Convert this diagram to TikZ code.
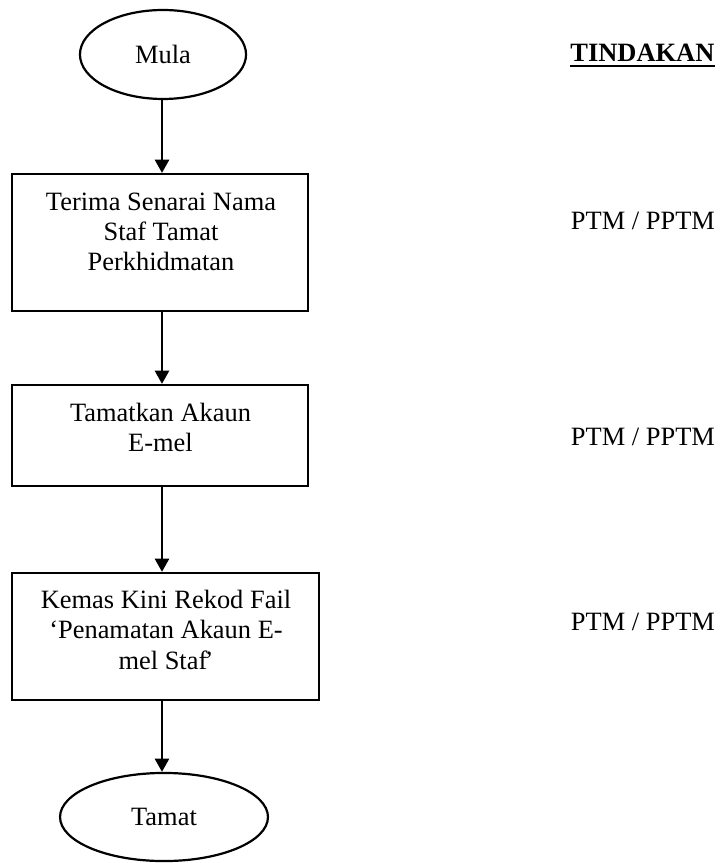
\documentclass[tikz,border=0pt]{standalone}
\usepackage{fontspec}
\setmainfont{Liberation Serif}
\usetikzlibrary{shapes.geometric,arrows.meta}
\begin{document}
\begin{tikzpicture}[x=0.454pt,y=-0.454pt,
  font=\fontsize{12}{13.8}\selectfont,
  stepbox/.style={draw, line width=1pt, inner sep=0pt},
  termnode/.style={draw, ellipse, line width=1pt, inner sep=0pt},
  boxtext/.style={align=center, inner sep=0pt, anchor=base},
  actiontext/.style={inner sep=0pt, anchor=base west},
  flow/.style={line width=1.1pt, -{Triangle[width=6.4pt,length=6pt]}}]
\useasboundingbox (0,0) rectangle (721,863);

\node[termnode, minimum width=75.4pt, minimum height=40.4pt] (mula) at (163,54.5) {Mula};
\node[stepbox, minimum width=134.4pt, minimum height=62.2pt] (b1) at (160,242.5) {};
\node[boxtext] (t1) at (161,271) {Terima Senarai Nama\\Staf Tamat\\Perkhidmatan};
\node[stepbox, minimum width=134.4pt, minimum height=45.9pt] (b2) at (160,435.5) {};
\node[boxtext] (t2) at (160.5,451.5) {Tamatkan Akaun\\E-mel};
\node[stepbox, minimum width=139.4pt, minimum height=57.7pt] (b3) at (165.5,636.5) {};
\node[boxtext] (t3) at (166,669) {Kemas Kini Rekod Fail\\‘Penamatan Akaun E-\\mel Staf\kern-1.2pt’};
\node[termnode, minimum width=94.4pt, minimum height=40pt] (tamat) at (164,817) {Tamat};

\draw[flow] ([xshift=-0.45pt]mula.south) -- ([xshift=-0.45pt]mula.south |- b1.north);
\draw[flow] ([xshift=0.9pt]b1.south) -- ([xshift=0.9pt]b1.south |- b2.north);
\draw[flow] ([xshift=0.9pt]b2.south) -- ([xshift=0.9pt]b2.south |- b3.north);
\draw[flow] ([xshift=-1.6pt]b3.south) -- ([xshift=-1.6pt]b3.south |- tamat.north);

\node[actiontext, font=\fontsize{12}{13.8}\selectfont\bfseries] (head) at (570,62) {TINDAKAN};
\draw[line width=1.1pt] ([yshift=-1.8pt]head.base west) -- ([yshift=-1.8pt]head.base east);
\node[actiontext] (a1) at (570.5,230) {PTM / PPTM};
\node[actiontext] (a2) at (570.5,445) {PTM / PPTM};
\node[actiontext] (a3) at (570.5,630) {PTM / PPTM};
\end{tikzpicture}
\end{document}
